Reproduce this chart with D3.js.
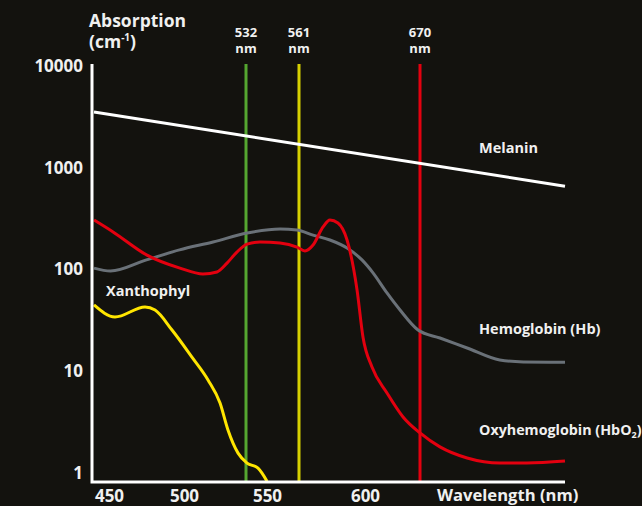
<!DOCTYPE html>
<html>
<head>
<meta charset="utf-8">
<script src="https://cdn.jsdelivr.net/npm/d3@7"></script>
<style>
  body { margin: 0; background: #13120e; }
  svg text { font-family: "Open Sans", Roboto, sans-serif; font-weight: 700; fill: #f0f0f0; }
</style>
</head>
<body>
<div class="chart"></div>
<script>
var w = 642;
var h = 506;

// the x axis of the original is hand drawn and uneven, so x is a piecewise scale
var xKnots = [440, 450, 500, 532, 550, 561, 600, 670, 750];
var xTicks = [450, 500, 550, 600];
var yTicks = [1, 10, 100, 1000, 10000];
var markers = [532, 561, 670];

var melaninNm = [440, 750];
var melanin = [3700, 690];

var hbNm = [440, 451, 475, 497, 515, 533, 554.5, 560.3, 569.3, 579.3, 589.4, 598.2, 610.2, 628, 644.6, 667.5, 681, 696, 714, 727, 750];
var hb = [108, 101, 130, 163, 195, 239, 262, 256, 228, 204, 170, 130, 97, 61.5, 41.8, 26.6, 22.2, 17.7, 13.5, 12.9, 12.8];

var hbo2Nm = [440, 452.7, 475.3, 497.3, 509.8, 517, 522.2, 527.3, 532.9, 544, 554.5, 560.3, 564.5, 569.3, 575.2, 579.3, 584, 589.4, 595.3, 598.8, 608.9, 628, 648.4, 670, 681, 696, 714, 729, 750];
var hbo2 = [321, 245, 145, 108, 94.5, 99, 121, 155, 186, 195, 191, 174, 159, 182, 274, 321, 300, 204, 65.8, 22.7, 11.5, 6.4, 3.72, 2.59, 1.89, 1.47, 1.31, 1.31, 1.37];

var xanNm = [440, 454, 474, 480.7, 492, 504.1, 512.4, 518.6, 522.7, 527.9, 532.9, 542.3, 550];
var xan = [46.9, 35.7, 44.8, 41.8, 26.6, 14.4, 8.59, 5.1, 2.77, 1.64, 1.31, 1.17, 0.87];

var series = [
    {nm: melaninNm, v: melanin, color: "#ffffff"},
    {nm: hbNm, v: hb, color: "#6a7178"},
    {nm: hbo2Nm, v: hbo2, color: "#e3000f"},
    {nm: xanNm, v: xan, color: "#ffe500"}
];
var markerColors = ["#55a630", "#d6d000", "#e3000f"];

var x = d3.scaleLinear().domain(xKnots).range([94, 109, 184, 246, 267, 299, 365, 420, 565]);
var y = d3.scaleLog().domain([1, 10000]).range([475, 68]);

var svg = d3.select(".chart")
            .append("svg")
            .attr("width", w)
            .attr("height", h);

svg.append("rect").attr("width", w).attr("height", h).attr("fill", "#13120e");

// wavelength markers
svg.selectAll(".marker")
    .data(markers)
    .enter()
    .append("line")
    .attr("class", "marker")
    .attr("x1", function(d) { return x(d); })
    .attr("x2", function(d) { return x(d); })
    .attr("y1", 64)
    .attr("y2", 482)
    .attr("stroke", function(d, i) { return markerColors[i]; })
    .attr("stroke-width", 3);

markers.forEach(function(m) {
    svg.append("text")
        .attr("text-anchor", "middle")
        .attr("font-size", "13px")
        .attr("x", x(m)).attr("y", 37).text(m);
    svg.append("text")
        .attr("text-anchor", "middle")
        .attr("font-size", "13px")
        .attr("x", x(m)).attr("y", 53).text("nm");
});

// curves
var line = d3.line()
    .x(function(d) { return x(d[0]); })
    .y(function(d) { return y(d[1]); })
    .curve(d3.curveMonotoneX);

series.forEach(function(s) {
    svg.append("path")
        .datum(d3.zip(s.nm, s.v))
        .attr("d", line)
        .attr("fill", "none")
        .attr("stroke", s.color)
        .attr("stroke-width", 3);
});

// axes
var yAxis = d3.axisLeft(y).tickValues(yTicks).tickFormat(d3.format("d")).tickSize(0).tickPadding(9);
var gy = svg.append("g").attr("transform", "translate(92,-2)").call(yAxis);
var xAxis = d3.axisBottom(x).tickValues(xTicks).tickSize(0).tickPadding(8);
var gx = svg.append("g").attr("transform", "translate(0,482)").call(xAxis);
[gx, gy].forEach(function(g) {
    g.attr("font-family", null).attr("font-size", null);
    g.select(".domain").remove();
    g.selectAll("text").attr("font-size", "17px").attr("fill", "#f0f0f0");
});

svg.append("path")
    .attr("d", "M92,64V482H565")
    .attr("fill", "none")
    .attr("stroke", "#ffffff")
    .attr("stroke-width", 3);

// titles
svg.append("text").attr("x", 89).attr("y", 27).attr("font-size", "17.5px").text("Absorption");
var cm = svg.append("text").attr("x", 89).attr("y", 48).attr("font-size", "17.5px");
cm.append("tspan").text("(cm");
cm.append("tspan").attr("font-size", "10px").attr("dy", -7).text("-1");
cm.append("tspan").attr("dy", 7).text(")");

svg.append("text").attr("x", 437).attr("y", 501).attr("font-size", "16.6px").text("Wavelength (nm)");

// series labels
svg.append("text").attr("x", 479).attr("y", 153).attr("font-size", "14.5px").text("Melanin");
svg.append("text").attr("x", 479).attr("y", 334).attr("font-size", "14.5px").text("Hemoglobin (Hb)");
svg.append("text").attr("x", 106).attr("y", 296).attr("font-size", "14.5px").text("Xanthophyl");
var ox = svg.append("text").attr("x", 479).attr("y", 435).attr("font-size", "14.3px");
ox.append("tspan").text("Oxyhemoglobin (HbO");
ox.append("tspan").attr("font-size", "9px").attr("dy", 3).text("2");
ox.append("tspan").attr("dy", -3).text(")");
</script>
</body>
</html>
